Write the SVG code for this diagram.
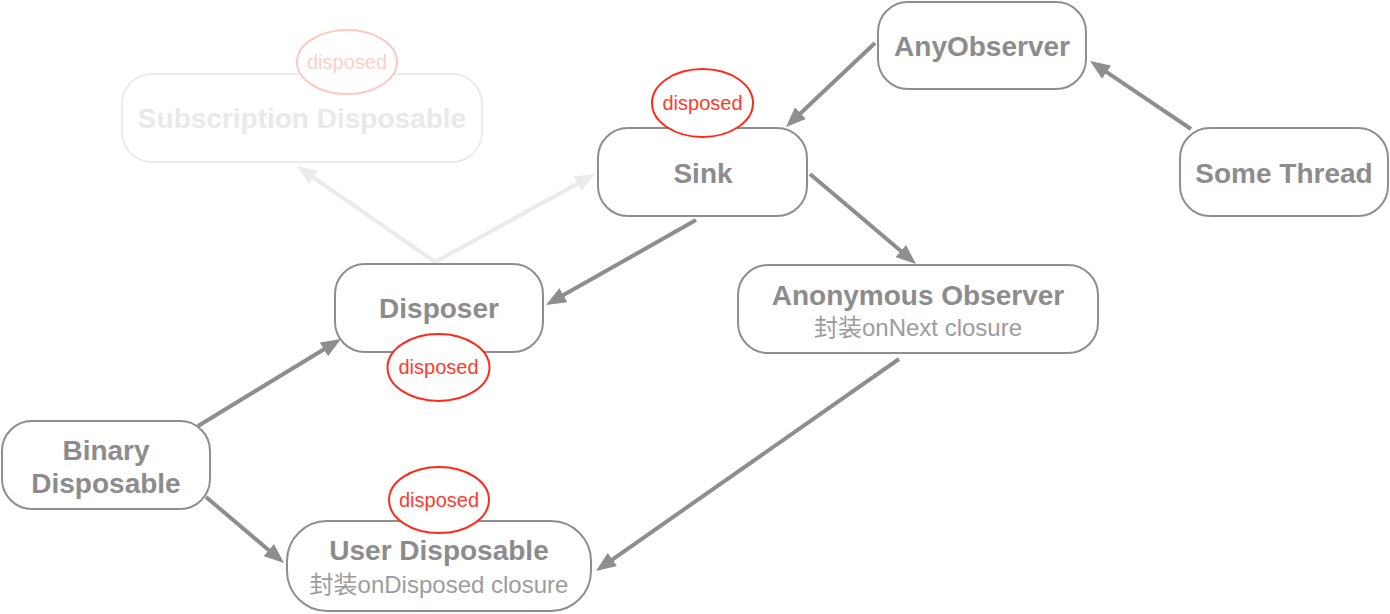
<svg xmlns="http://www.w3.org/2000/svg" width="1390" height="614" viewBox="0 0 1390 614">
<defs>
<style>
.box{fill:#fff;stroke:#8e8e8e;stroke-width:2}
.fbox{fill:#fff;stroke:#ebebeb;stroke-width:2}
.t{font-family:"Liberation Sans",Arial,sans-serif;font-weight:bold;font-size:28px;fill:#8c8c8c;text-anchor:middle}
.ft{font-family:"Liberation Sans",Arial,sans-serif;font-weight:bold;font-size:28px;fill:#e9e9e9;text-anchor:middle}
.sub{font-family:"Liberation Sans","Noto Sans CJK SC",sans-serif;font-size:24px;fill:#9c9c9c;text-anchor:middle}
.ell{fill:#fff;stroke:#ff2a1a;stroke-width:2}
.fell{fill:#fff;stroke:#fbc9c2;stroke-width:2}
.dt{font-family:"Liberation Sans",Arial,sans-serif;font-size:20px;fill:#ff3b30;text-anchor:middle}
.fdt{font-family:"Liberation Sans",Arial,sans-serif;font-size:20px;fill:#fcd0ca;text-anchor:middle}
.c{stroke:#8e8e8e;stroke-width:4;fill:none;marker-end:url(#ah)}
.fc{stroke:#ebebeb;stroke-width:4;fill:none;marker-end:url(#fah)}
</style>
<marker id="ah" markerUnits="userSpaceOnUse" markerWidth="20" markerHeight="16" refX="4" refY="8" orient="auto"><path d="M0,0 L20,8 L0,16 z" fill="#8e8e8e"/></marker>
<marker id="fah" markerUnits="userSpaceOnUse" markerWidth="20" markerHeight="16" refX="4" refY="8" orient="auto"><path d="M0,0 L20,8 L0,16 z" fill="#ebebeb"/></marker>
</defs>
<rect width="1390" height="614" fill="#fff"/>
<g id="connectors">
<line class="fc" x1="435" y1="262" x2="310.1" y2="175.1"/>
<line class="fc" x1="435" y1="262" x2="581" y2="181.7"/>
<line class="c" x1="875" y1="43" x2="797.6" y2="116"/>
<line class="c" x1="1191" y1="129" x2="1103.3" y2="69.9"/>
<line class="c" x1="696" y1="220" x2="559.9" y2="297.1"/>
<line class="c" x1="810" y1="174" x2="903.8" y2="253.6"/>
<line class="c" x1="198" y1="426" x2="327.3" y2="347.3"/>
<line class="c" x1="206" y1="497" x2="271.8" y2="552.7"/>
<line class="c" x1="899" y1="359" x2="609.1" y2="561.8"/>
</g>
<g id="subscription">
<rect class="fbox" x="122" y="74" width="360" height="88" rx="30"/>
<text class="ft" x="302" y="128">Subscription Disposable</text>
<ellipse class="fell" cx="347" cy="62" rx="50" ry="32"/>
<text class="fdt" x="347" y="69">disposed</text>
</g>
<g id="sink">
<rect class="box" x="598" y="128" width="209" height="88" rx="30"/>
<text class="t" x="703" y="183">Sink</text>
<ellipse class="ell" cx="702.5" cy="103" rx="50.5" ry="34"/>
<text class="dt" x="702.5" y="110">disposed</text>
</g>
<g id="anyobserver">
<rect class="box" x="878" y="2" width="208" height="87" rx="30"/>
<text class="t" x="982" y="56">AnyObserver</text>
</g>
<g id="somethread">
<rect class="box" x="1180" y="128" width="208" height="88" rx="30"/>
<text class="t" x="1284" y="183">Some Thread</text>
</g>
<g id="disposer">
<rect class="box" x="335" y="264" width="208" height="88" rx="30"/>
<text class="t" x="439" y="318">Disposer</text>
<ellipse class="ell" cx="438.5" cy="367.5" rx="51" ry="33.5"/>
<text class="dt" x="438.5" y="374">disposed</text>
</g>
<g id="anonymous">
<rect class="box" x="738" y="265" width="360" height="88" rx="30"/>
<text class="t" x="918" y="305">Anonymous Observer</text>
<text class="sub" x="918" y="336">封装onNext closure</text>
</g>
<g id="binary">
<rect class="box" x="2" y="421" width="208" height="88" rx="30"/>
<text class="t" x="106" y="460">Binary</text>
<text class="t" x="106" y="493">Disposable</text>
</g>
<g id="userdisposable">
<rect class="box" x="287" y="521" width="304" height="90" rx="40"/>
<text class="t" x="439" y="560">User Disposable</text>
<text class="sub" x="439" y="593">封装onDisposed closure</text>
<ellipse class="ell" cx="439" cy="500" rx="50" ry="33"/>
<text class="dt" x="439" y="507">disposed</text>
</g>
</svg>
